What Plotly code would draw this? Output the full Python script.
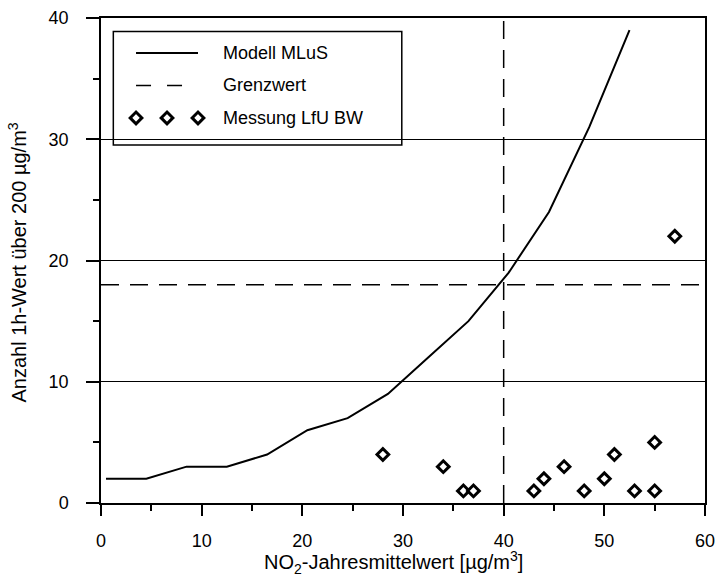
import plotly.graph_objects as go

# ---- data ----
model_x = [0.5, 4.5, 8.5, 12.5, 16.5, 20.5, 24.5, 28.5, 32.5, 36.5, 40.5, 44.5, 48.5, 52.5]
model_y = [2, 2, 3, 3, 4, 6, 7, 9, 12, 15, 19, 24, 31, 39]

limit_annual = 40      # µg/m³ annual mean limit
limit_hours = 18       # allowed exceedances

meas_x = [28, 34, 36, 37, 43, 44, 46, 48, 50, 51, 53, 55, 55, 57]
meas_y = [4, 3, 1, 1, 1, 2, 3, 1, 2, 4, 1, 1, 5, 22]

x_ticks = [0, 10, 20, 30, 40, 50, 60]
y_ticks = [0, 10, 20, 30, 40]
legend_labels = ["Modell MLuS", "Grenzwert", "Messung LfU BW"]
x_title = "NO<sub>2</sub>-Jahresmittelwert [µg/m<sup>3</sup>]"
y_title = "Anzahl 1h-Wert über 200 µg/m<sup>3</sup>"

XR = [0, 60]
YR = [0, 40]
FONT = "Liberation Sans, Arial, sans-serif"
FS = 18
FT = 20

fig = go.Figure()

fig.add_trace(go.Scatter(x=model_x, y=model_y, mode="lines",
                         line=dict(color="black", width=2), showlegend=False))
fig.add_trace(go.Scatter(x=[XR[0], XR[1], None, limit_annual, limit_annual],
                         y=[limit_hours, limit_hours, None, YR[0], YR[1]],
                         mode="lines", line=dict(color="black", width=1.5, dash="18px,11px"),
                         showlegend=False))
fig.add_trace(go.Scatter(x=meas_x, y=meas_y, mode="markers",
                         marker=dict(symbol="diamond", size=9, color="white",
                                     line=dict(color="black", width=3)),
                         showlegend=False, cliponaxis=False))

# ---- manual legend (paper fractions converted to data coords) ----
def px(f):
    return XR[0] + f * (XR[1] - XR[0])

def py(f):
    return YR[0] + f * (YR[1] - YR[0])

box = dict(x0=0.0204, x1=0.498, y0=0.7384, y1=0.9723)
rows = [0.928, 0.861, 0.794]
s0, s1, tx = 0.058, 0.1606, 0.198

fig.add_shape(type="rect", xref="paper", yref="paper", layer="between",
              x0=box["x0"], x1=box["x1"], y0=box["y0"], y1=box["y1"],
              line=dict(color="black", width=1.5), fillcolor="white")
fig.add_trace(go.Scatter(x=[px(s0), px(s1)], y=[py(rows[0])] * 2, mode="lines",
                         line=dict(color="black", width=2), showlegend=False))
fig.add_trace(go.Scatter(x=[px(s0), px(s1)], y=[py(rows[1])] * 2, mode="lines",
                         line=dict(color="black", width=1.5, dash="15px,16px"), showlegend=False))
fig.add_trace(go.Scatter(x=[px(s0), px((s0 + s1) / 2), px(s1)], y=[py(rows[2])] * 3,
                         mode="markers",
                         marker=dict(symbol="diamond", size=9, color="white",
                                     line=dict(color="black", width=3)),
                         showlegend=False))
for lab, r in zip(legend_labels, rows):
    fig.add_annotation(xref="paper", yref="paper", x=tx, y=r, text=lab,
                       showarrow=False, xanchor="left", yanchor="middle",
                       font=dict(family=FONT, size=FS, color="black"))

# ---- axis titles as annotations ----
fig.add_annotation(xref="paper", yref="paper", x=0.484, y=-0.122, text=x_title,
                   showarrow=False, xanchor="center", yanchor="middle",
                   font=dict(family=FONT, size=FT, color="black"))
fig.add_annotation(xref="paper", yref="paper", x=-0.138, y=0.495, text=y_title,
                   showarrow=False, xanchor="center", yanchor="middle", textangle=-90,
                   font=dict(family=FONT, size=FT, color="black"))

fig.update_layout(
    width=717, height=578,
    margin=dict(l=101, r=12, t=18, b=75),
    paper_bgcolor="white", plot_bgcolor="white",
    font=dict(family=FONT, size=FS, color="black"),
    showlegend=False,
)
fig.update_xaxes(
    range=XR, tickvals=x_ticks, ticks="outside", ticklen=11, tickwidth=1.5,
    tickcolor="black", showline=True, linecolor="black", linewidth=1.5, mirror=True,
    showgrid=False, zeroline=False, ticklabelstandoff=10, automargin=False,
    tickfont=dict(size=FS),
    minor=dict(dtick=5, tick0=0, ticks="outside", ticklen=6, tickwidth=1.5, tickcolor="black",
               showgrid=False),
)
fig.update_yaxes(
    range=YR, tickvals=y_ticks, ticks="outside", ticklen=13, tickwidth=1.5,
    tickcolor="black", showline=True, linecolor="black", linewidth=1.5, mirror=True,
    showgrid=True, gridcolor="black", gridwidth=1, zeroline=False, ticklabelstandoff=14,
    automargin=False, tickfont=dict(size=FS),
    minor=dict(dtick=5, tick0=0, ticks="outside", ticklen=6, tickwidth=1.5, tickcolor="black",
               showgrid=False),
)

fig.write_html("out.html")
